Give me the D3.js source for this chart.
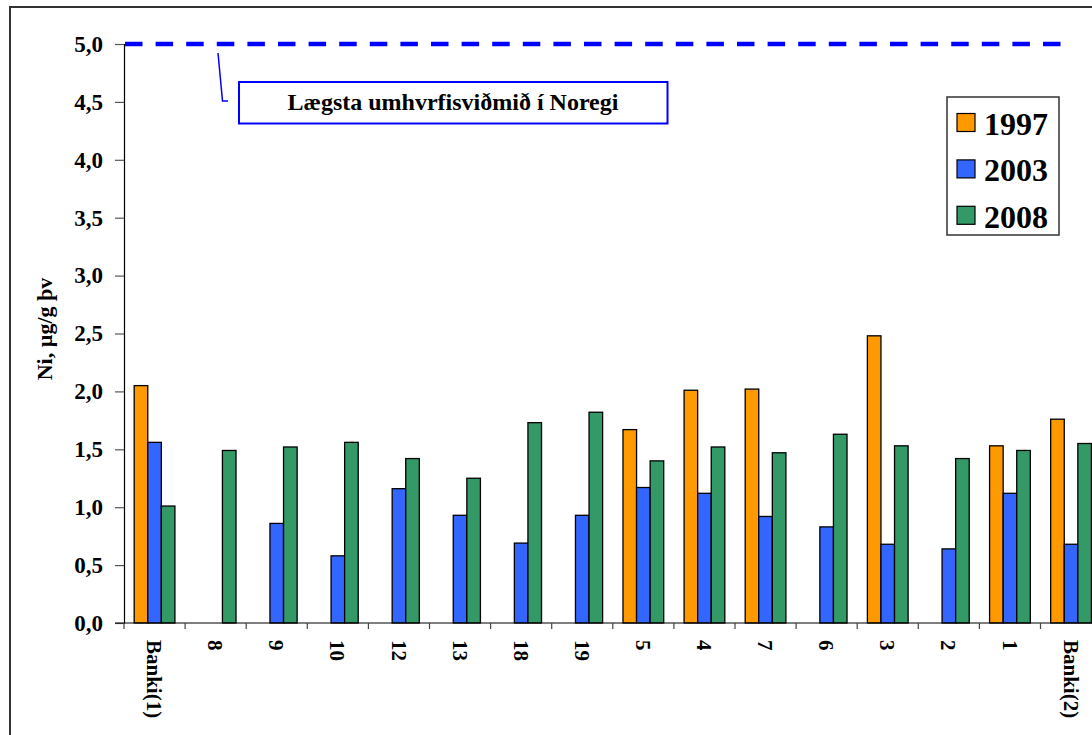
<!DOCTYPE html>
<html>
<head>
<meta charset="utf-8">
<script src="https://cdn.jsdelivr.net/npm/d3@7"></script>
<style>
  html, body { margin: 0; padding: 0; background: #fff; overflow: hidden; }
  svg { display: block; font-family: "Liberation Serif", "Times New Roman", serif; font-weight: bold; }
</style>
</head>
<body>
<svg id="chart" width="1092" height="735"></svg>
<script>
const categories = ["Banki(1)","8","9","10","12","13","18","19","5","4","7","6","3","2","1","Banki(2)"];
const seriesNames = ["1997","2003","2008"];
const v1997 = [2.05,null,null,null,null,null,null,null,1.67,2.01,2.02,null,2.48,null,1.53,1.76];
const v2003 = [1.56,null,0.86,0.58,1.16,0.93,0.69,0.93,1.17,1.12,0.92,0.83,0.68,0.64,1.12,0.68];
const v2008 = [1.01,1.49,1.52,1.56,1.42,1.25,1.73,1.82,1.40,1.52,1.47,1.63,1.53,1.42,1.49,1.55];
const yTicks = [0,0.5,1,1.5,2,2.5,3,3.5,4,4.5,5];
const limitValue = 5.0;
const limitLabel = "Lægsta umhvrfisviðmið í Noregi";
const yLabel = "Ni, µg/g þv";
const colors = ["#FF9900","#3366FF","#339966"];

const seriesValues = [v1997, v2003, v2008];
const svg = d3.select("#chart");

// outer frame (extends beyond the visible picture right & bottom)
svg.append("rect").attr("x",10).attr("y",7).attr("width",1200).attr("height",800)
  .attr("fill","#fff").attr("stroke","#333").attr("stroke-width",2);

const x0 = d3.scaleBand().domain(categories).range([124, 1101.6]).padding(0);
const bw = x0.bandwidth();
const x1 = d3.scaleBand().domain(seriesNames).range([bw/6, bw - bw/6]).padding(0);
const y = d3.scaleLinear().domain([0,5]).range([623, 44]);

// bars
const groups = svg.append("g").selectAll("g").data(categories).join("g")
  .attr("transform", d => `translate(${x0(d)},0)`);
groups.selectAll("rect")
  .data((c,i) => seriesNames.map((s,k) => ({s, v: seriesValues[k][i], k})).filter(d => d.v != null))
  .join("rect")
  .attr("x", d => x1(d.s))
  .attr("y", d => y(d.v))
  .attr("width", x1.bandwidth())
  .attr("height", d => y(0) - y(d.v))
  .attr("fill", d => colors[d.k])
  .attr("stroke", "#000").attr("stroke-width", 1.3);

// y axis
const yAxis = d3.axisLeft(y).tickValues(yTicks).tickSize(9).tickPadding(12)
  .tickFormat(d => d3.format(".1f")(d).replace(".", ","));
const gy = svg.append("g").attr("transform","translate(124,0)").call(yAxis)
  .attr("font-family","Liberation Serif");
gy.select(".domain").attr("stroke","#000").attr("stroke-width",1.2);
gy.selectAll(".tick line").attr("stroke","#555").attr("stroke-width",1.2);
gy.selectAll(".tick text").attr("font-size",23).attr("font-family","Liberation Serif")
  .attr("font-weight","bold").attr("fill","#000");

// x axis
const gx = svg.append("g").attr("transform",`translate(0,${y(0)})`);
gx.append("line").attr("x1",115).attr("x2",1101.6).attr("y1",0).attr("y2",0)
  .attr("stroke","#000").attr("stroke-width",1.2);
gx.selectAll("line.tk").data(d3.range(categories.length+1)).join("line").attr("class","tk")
  .attr("x1", i => 124 + i*bw).attr("x2", i => 124 + i*bw)
  .attr("y1",0).attr("y2",6).attr("stroke","#444").attr("stroke-width",1.2);
gx.selectAll("text").data(categories).join("text")
  .attr("transform", d => `translate(${x0(d)+bw/2},17) rotate(90)`)
  .attr("dy","0.35em")
  .attr("font-size",21).attr("fill","#000")
  .text(d => d);

// y label
svg.append("text").attr("transform","translate(44,329) rotate(-90)")
  .attr("text-anchor","middle").attr("dy","0.35em").attr("font-size",22).attr("fill","#000")
  .text(yLabel);

// limit line
svg.append("line").attr("x1",125).attr("x2",1071).attr("y1",y(limitValue)).attr("y2",y(limitValue))
  .attr("stroke","#0000FF").attr("stroke-width",4.3).attr("stroke-dasharray","17.5,13.1");

// callout
svg.append("polyline").attr("points","218,53 222.5,101 228,101")
  .attr("fill","none").attr("stroke","#0000FF").attr("stroke-width",1.5);
svg.append("rect").attr("x",239).attr("y",82).attr("width",428.5).attr("height",41.5)
  .attr("fill","#fff").attr("stroke","#0000FF").attr("stroke-width",2);
svg.append("text").attr("x",453).attr("y",102).attr("text-anchor","middle").attr("dy","0.35em")
  .attr("font-size",24).attr("fill","#000").text(limitLabel);

// legend
const lg = svg.append("g");
lg.append("rect").attr("x",947).attr("y",97).attr("width",112).attr("height",138)
  .attr("fill","#fff").attr("stroke","#333").attr("stroke-width",1.5);
const li = lg.selectAll("g.li").data(seriesNames).join("g").attr("class","li")
  .attr("transform",(d,i) => `translate(0,${i*46.4})`);
li.append("rect").attr("x",957).attr("y",113.5).attr("width",18).attr("height",18)
  .attr("fill",(d,i) => colors[i]).attr("stroke","#000").attr("stroke-width",1.2);
li.append("text").attr("x",984).attr("y",135).attr("font-size",32).attr("fill","#000").text(d => d);
</script>
</body>
</html>
